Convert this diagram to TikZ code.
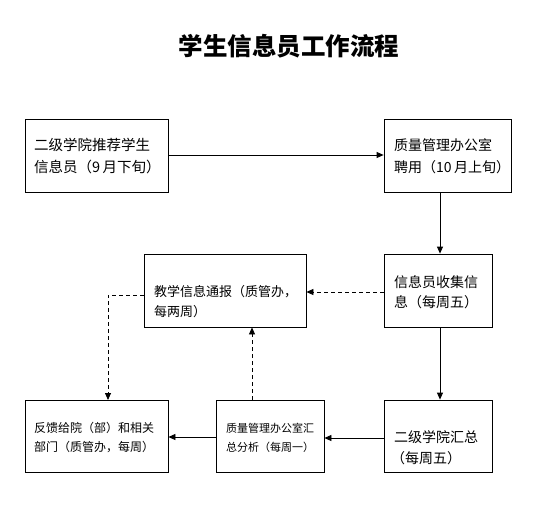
\documentclass[tikz,border=0pt]{standalone}
\usepackage{fontspec}
\setmainfont{Noto Sans CJK SC}
\usetikzlibrary{arrows.meta}
\begin{document}
\begin{tikzpicture}[x=1pt,y=-1pt,
  box/.style={draw,line width=0.8pt,inner sep=0pt},
  txt/.style={anchor=west,align=left,inner sep=0pt},
  arr/.style={line width=0.8pt,-{Triangle[length=7pt,width=6pt]}},
  darr/.style={arr,dash pattern=on 4pt off 3pt}]
\useasboundingbox (0,0) rectangle (540,527);
\node[font=\bfseries\fontsize{24.5}{28}\selectfont] (title) at (289,46) {学生信息员工作流程};
% boxes
\node[box,minimum width=143pt,minimum height=73pt] (A) at (96.5,155.5) {};
\node[box,minimum width=127pt,minimum height=73pt] (B) at (447.5,155.5) {};
\node[box,minimum width=108pt,minimum height=73pt] (C) at (438,290.5) {};
\node[box,minimum width=162pt,minimum height=73pt] (D) at (225,290.5) {};
\node[box,minimum width=143pt,minimum height=72pt] (F) at (96.5,436) {};
\node[box,minimum width=108pt,minimum height=72pt] (E) at (270,436) {};
\node[box,minimum width=108pt,minimum height=72pt] (G) at (438,436) {};
% texts
\node[txt,font=\fontsize{14.5}{22}\selectfont] (tA) at (34,156) {二级学院推荐学生\\信息员（9\,月下旬）};
\node[txt,font=\fontsize{14}{22}\selectfont] (tB) at (394,156) {质量管理办公室\\聘用（10\,月上旬）};
\node[txt,font=\fontsize{14}{20}\selectfont] (tC) at (394,292) {信息员收集信\\息（每周五）};
\node[txt,font=\fontsize{13}{20}\selectfont] (tD) at (154,302) {教学信息通报（质管办，\\每两周）};
\node[txt,font=\fontsize{12}{19}\selectfont] (tF) at (34,437.5) {反馈给院（部）和相关\\部门（质管办，每周）};
\node[txt,font=\fontsize{11}{19}\selectfont] (tE) at (226,437.5) {质量管理办公室汇\\总分析（每周一）};
\node[txt,font=\fontsize{14}{21}\selectfont] (tG) at (391,447.5) {\hspace*{3pt}二级学院汇总\\（每周五）};
% connectors
\draw[arr] (A.east |- 0,155) -- (B.west |- 0,155);
\draw[arr] (440,192) coordinate (b1) -- (b1 |- C.north);
\draw[arr] (440,327) coordinate (c1) -- (c1 |- G.north);
\draw[darr] (C.west |- 0,292) -- (D.east |- 0,292);
\draw[arr] (G.west |- 0,438) -- (E.east |- 0,438);
\draw[arr] (E.west |- 0,437) -- (F.east |- 0,437);
\draw[darr] (252,400) coordinate (e1) -- (e1 |- D.south);
\draw[darr] (D.west |- 0,295) -| (108,400) coordinate (f1);
\end{tikzpicture}
\end{document}
